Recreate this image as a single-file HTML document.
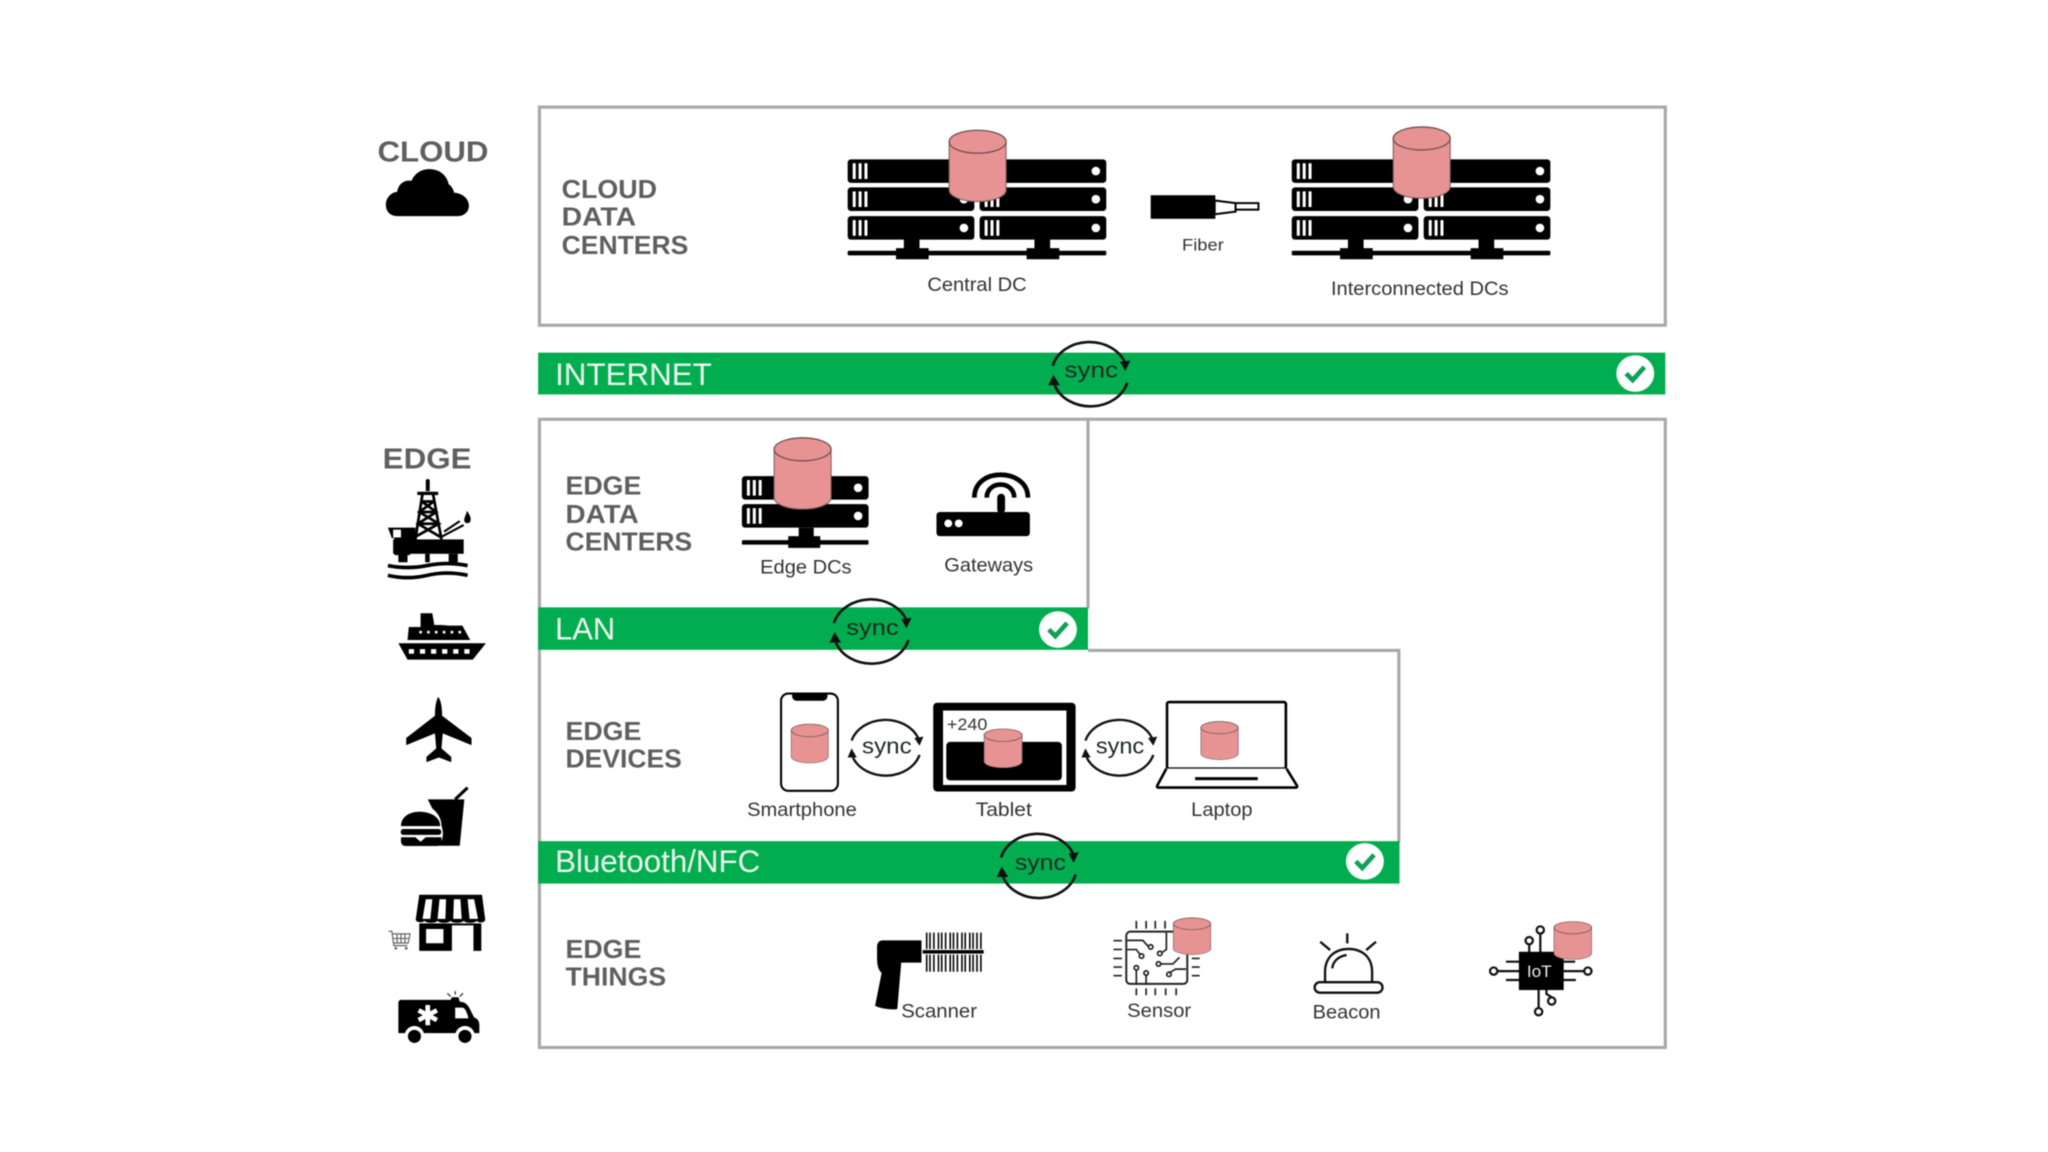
<!DOCTYPE html>
<html><head><meta charset="utf-8"><style>
html,body{margin:0;padding:0;background:#fff;width:2048px;height:1152px;overflow:hidden}
svg{display:block;filter:blur(.6px)}
text{font-family:"Liberation Sans",sans-serif}
.h{font-weight:bold;fill:#5f5f5f;font-size:20px;transform:translateY(.6px)}
.l{fill:#333;font-size:15px;transform:translateY(.7px)}
.b{fill:#eef7ee;font-size:24px;transform:translateY(.7px)}
.s{fill:#1c2a20;font-size:17px}
</style></head><body>
<svg xmlns="http://www.w3.org/2000/svg" width="2048" height="1152" viewBox="0 0 1568 882">
<defs>
<g id="u"><rect width="97" height="18" rx="2.5" fill="#000"/><path d="M5 3v12M9.500 3v12M14 3v12" stroke="#fff" stroke-width="2.300"/><circle cx="89" cy="9" r="3.300" fill="#fff"/></g>
<symbol id="c" viewBox="0 0 45 56" preserveAspectRatio="none"><path d="M.7 9.500V46.500C.7 51.500 10.500 55.300 22.500 55.300S44.300 51.500 44.300 46.500V9.500Z" fill="#e79393" stroke="#7d5d5d" stroke-width=".8"/><ellipse cx="22.500" cy="9.500" rx="21.800" ry="8.800" fill="#e79393" stroke="#6e5050" stroke-width="1"/></symbol>
<g id="sy" fill="none" stroke="#111" stroke-width="2"><path d="M-28.500-6A29 24 0 0 1 27-8"/><path d="M28.500 7A29 24 0 0 1-27 9"/><path d="M23-9L31-10 27-2Z" fill="#111" stroke="none"/><path d="M-23 9L-32 9-28 1Z" fill="#111" stroke="none"/></g>
<g id="sm" fill="none" stroke="#111" stroke-width="1.800"><path d="M-26-5A27 22 0 0 1 25-7"/><path d="M26 6A27 22 0 0 1-25 8"/><path d="M22-7L29-8 26-1Z" fill="#111" stroke="none"/><path d="M-22 8L-29 8-26 1Z" fill="#111" stroke="none"/></g>
<g id="ck"><ellipse rx="14.500" ry="14" fill="#fff"/><path d="M-7 0L-2 5 7-5" fill="none" stroke="#12a057" stroke-width="3.600"/></g>
</defs>
<rect width="1568" height="882" fill="#fff"/>

<!-- boxes -->
<g fill="none" stroke="#a8a8a8" stroke-width="2.400">
<rect x="413" y="82" width="862" height="167"/>
<rect x="413" y="321" width="862" height="481"/>
<path d="M833 321V466M833 498H1071V645"/>
</g>

<!-- bars -->
<rect x="412" y="270" width="863" height="32" fill="#02ad50"/>
<rect x="412" y="465" width="421" height="32.500" fill="#02ad50"/>
<rect x="412" y="644" width="659.500" height="32.500" fill="#02ad50"/>
<text class="b" x="425" y="294" textLength="120" lengthAdjust="spacingAndGlyphs">INTERNET</text>
<text class="b" x="425" y="489" textLength="46" lengthAdjust="spacingAndGlyphs">LAN</text>
<text class="b" x="425" y="667" textLength="157" lengthAdjust="spacingAndGlyphs">Bluetooth/NFC</text>
<use href="#ck" x="1252" y="286"/><use href="#ck" x="810" y="482"/><use href="#ck" x="1045" y="659.500"/>

<!-- section titles -->
<text class="h" x="289" y="123" style="font-size:22px" textLength="85" lengthAdjust="spacingAndGlyphs">CLOUD</text>
<text class="h" x="293" y="358" style="font-size:22px" textLength="68" lengthAdjust="spacingAndGlyphs">EDGE</text>
<text class="h" x="430" y="151" textLength="73" lengthAdjust="spacingAndGlyphs">CLOUD</text>
<text class="h" x="430" y="172" textLength="57" lengthAdjust="spacingAndGlyphs">DATA</text>
<text class="h" x="430" y="194" textLength="97" lengthAdjust="spacingAndGlyphs">CENTERS</text>
<text class="h" x="433" y="378" textLength="58" lengthAdjust="spacingAndGlyphs">EDGE</text>
<text class="h" x="433" y="400" textLength="56" lengthAdjust="spacingAndGlyphs">DATA</text>
<text class="h" x="433" y="421" textLength="97" lengthAdjust="spacingAndGlyphs">CENTERS</text>
<text class="h" x="433" y="566" textLength="58" lengthAdjust="spacingAndGlyphs">EDGE</text>
<text class="h" x="433" y="587" textLength="89" lengthAdjust="spacingAndGlyphs">DEVICES</text>
<text class="h" x="433" y="733" textLength="58" lengthAdjust="spacingAndGlyphs">EDGE</text>
<text class="h" x="433" y="754" textLength="77" lengthAdjust="spacingAndGlyphs">THINGS</text>

<!-- cloud icon -->
<path d="M305 165.500C297 165.500 295 160 295.500 155.500C296 151 300 147 304 147C305 140.500 310 137.500 315 138.500C318 132 323 129.500 329 129.500C337 129.500 342.500 135 343.500 141C346 143 347.500 145.500 347.500 147.500C354 148 359 152 359 157.500C359 162.500 355 165.500 350 165.500Z" fill="#000"/>

<!-- central DC -->
<g id="dc">
<use href="#u" x="649" y="122"/><use href="#u" x="750" y="122"/>
<use href="#u" x="649" y="143.500"/><use href="#u" x="750" y="143.500"/>
<use href="#u" x="649" y="165.500"/><use href="#u" x="750" y="165.500"/>
<rect x="692" y="183" width="12" height="10"/><rect x="792" y="183" width="12" height="10"/>
<rect x="649" y="192" width="198" height="3.500" rx="1"/>
<rect x="686" y="190" width="25" height="8.500"/><rect x="786" y="190" width="25" height="8.500"/>
</g>
<use href="#c" x="726" y="99" width="45" height="56"/>
<use href="#dc" x="340"/>
<use href="#c" x="1066" y="96.500" width="45" height="56"/>
<text class="l" x="710" y="222" textLength="76" lengthAdjust="spacingAndGlyphs">Central DC</text>
<text class="l" x="1019" y="225" textLength="136" lengthAdjust="spacingAndGlyphs">Interconnected DCs</text>
<text class="l" x="905" y="191" style="font-size:13px" textLength="32" lengthAdjust="spacingAndGlyphs">Fiber</text>

<!-- fiber -->
<rect x="881" y="149.500" width="49.500" height="18"/>
<path d="M930 153.500L946 155.500V162L930 164Z" fill="#fff" stroke="#000" stroke-width="1.500"/>
<rect x="946" y="155.500" width="17.500" height="5" fill="#fff" stroke="#000" stroke-width="1.500"/>

<!-- sync -->
<use href="#sy" x="834.500" y="286"/>
<text class="s" x="815" y="289" textLength="41" lengthAdjust="spacingAndGlyphs">sync</text>
<use href="#sy" x="667" y="483"/>
<text class="s" x="648" y="486" textLength="40" lengthAdjust="spacingAndGlyphs">sync</text>
<use href="#sy" x="795" y="662.500"/>
<text class="s" x="777" y="666" textLength="39" lengthAdjust="spacingAndGlyphs">sync</text>
<use href="#sm" x="678" y="572"/>
<text class="s" x="660" y="577" textLength="38" lengthAdjust="spacingAndGlyphs">sync</text>
<use href="#sm" x="857" y="572"/>
<text class="s" x="839" y="577" textLength="37" lengthAdjust="spacingAndGlyphs">sync</text>

<!-- edge DC -->
<use href="#u" x="568" y="364.500"/><use href="#u" x="568" y="386"/>
<rect x="611.500" y="404" width="11.500" height="8"/>
<rect x="568" y="413.500" width="97" height="3.500" rx="1"/>
<rect x="603.500" y="410.500" width="24.500" height="9"/>
<use href="#c" x="592" y="334.500" width="45" height="56"/>
<text class="l" x="582" y="438.500" textLength="70" lengthAdjust="spacingAndGlyphs">Edge DCs</text>

<!-- gateway -->
<rect x="717" y="392" width="71.500" height="18.500" rx="2.500"/>
<circle cx="726" cy="400.700" r="3" fill="#fff"/><circle cx="734" cy="400.700" r="3" fill="#fff"/>
<rect x="763.500" y="378" width="6" height="15" rx="3"/>
<path d="M746 381C746 369 756 363.500 766 363.500C776 363.500 787 369 787 381M755.500 381C755.500 375 760 371 766 371C772 371 776.500 375 776.500 381" fill="none" stroke="#000" stroke-width="3.600"/>
<text class="l" x="723" y="437" textLength="68" lengthAdjust="spacingAndGlyphs">Gateways</text>

<!-- rig -->
<g fill="#000">
<path d="M326 367.500Q327.500 366 329 367.500V376H326Z"/>
<g fill="none" stroke="#000" stroke-width="2.100"><path d="M323.500 378L318 413M331.500 378L338 413M323 384H332M321 392H334M320 401H336M323 384L334 392 320 401 337 411M332 384L321 392 336 401 318 411"/><path d="M338 411L355 402M340 407L352 399" stroke-width="1.600"/></g>
<rect x="319.500" y="376.500" width="16" height="2.500"/>
<rect x="301" y="413" width="54" height="11"/>
<path d="M297 404H318V414H314V425H302V412H300Z"/><rect x="301" y="405.500" width="6" height="6" fill="#fff"/>
<rect x="305" y="424" width="7" height="6.500"/><rect x="325.500" y="424" width="3.500" height="6.500"/><rect x="343.500" y="424" width="7" height="6.500"/>
<path d="M357.500 391C360 394.500 361 397 360 399.500C359 401 356 401 355.500 399C355 396.500 357 394 357.500 391Z"/>
<path d="M297 433Q312 436 327 433T358 433M297 440.500Q312 444 327 440.500T358 440.500" fill="none" stroke="#000" stroke-width="2.800"/>
</g>

<!-- ship -->
<path d="M322 469.500H331L332.500 478.500H338L344 479H354L360 490H312L313 480H322Z"/>
<path d="M305 492.500H372L362 505H312Z"/>
<g fill="#fff"><rect x="321" y="483" width="2" height="2"/><rect x="327" y="483" width="2" height="2"/><rect x="333" y="483" width="2" height="2"/><rect x="339" y="483" width="2" height="2"/><rect x="345" y="483" width="2" height="2"/><rect x="351" y="483" width="2" height="2"/>
<rect x="313" y="497" width="4" height="3.500"/><rect x="321.500" y="497" width="4" height="3.500"/><rect x="330" y="497" width="4" height="3.500"/><rect x="338.500" y="497" width="4" height="3.500"/><rect x="347" y="497" width="4" height="3.500"/><rect x="355.500" y="497" width="4" height="3.500"/></g>

<!-- plane -->
<path d="M335.500 533.500C337.500 536 338.500 541 338.500 548L361 565V570.500L339 561.500L338 573L345.500 579.500V583.500L336 580L326.500 583.500V579.500L334 573L333 561.500L311 570.500V565L333 548C333 541 334 536 335.500 533.500Z"/>

<!-- food -->
<path d="M327.500 612H355.500L352 647.500H336C340 642 339.500 637 338 632C338 627 335 622 331 619Z"/>
<path d="M348.500 612L358 603" fill="none" stroke="#000" stroke-width="2.400"/>
<path d="M307 632.500C307 625 314 621.500 321 621.500C329 621.500 337 625 337 632.500Z"/>
<rect x="306.800" y="634.700" width="31" height="4.500" rx="2"/>
<path d="M307 641H318L322 644.500L326 641H338V645C338 647 336 647.700 334 647.700H311C308 647.700 307 646 307 644Z"/>

<!-- store -->
<path d="M321 685H369L371.500 704C371.500 706.500 367 707 365 705C363 707 357 707 355 705C353 707 347 707 345 705C343 707 337 707 335 705C333 707 327 707 325 705C323 707 318.300 706 318.300 704Z"/>
<g fill="#fff"><path d="M326 688.500H331L329.500 703.500H323.500Z"/><path d="M336.500 688.500H341.500L341 703.500H335Z"/><path d="M347.500 688.500H352.500L353.500 703.500H347Z"/><path d="M358 688.500H363L366 703.500H359.500Z"/></g>
<path d="M321 707H368.500V728H362.500V708.500H346V728H321ZM326.200 711.300V722.200H339.500V711.300Z" fill-rule="evenodd"/>
<g fill="none" stroke="#666" stroke-width=".9"><path d="M297.500 713H300L301.500 724H312M300.500 715H314L312.500 722H301.500M304 715V722M307 715V722M310 715V722M301 718.500H313.500"/></g>
<circle cx="303" cy="726" r="1" fill="#555"/><circle cx="311" cy="726" r="1" fill="#555"/>

<!-- ambulance -->
<path d="M307 765.500H345L346 763.500H351L352 767C356 767 358 769 360 773L363 779C366 780 367 782 367 785V791H305V768Q305 765.500 307 765.500Z"/>
<path d="M348.500 771.500H354C356 771.500 357.500 775 358.700 779.700H348.500Z" fill="#fff"/>
<g stroke="#fff" stroke-width="3.600"><path d="M327.500 769.500V785M320.500 773.500L334.500 781M334.500 773.500L320.500 781"/></g>
<circle cx="317.300" cy="793" r="7.500" fill="#fff"/><circle cx="356" cy="793" r="7.500" fill="#fff"/>
<circle cx="317.300" cy="793.500" r="5"/><circle cx="356" cy="793.500" r="5"/>
<path d="M342.500 760.500L345 763M348.500 758.800V761.500M354.500 760.500L352 763" stroke="#333" stroke-width="1"/>

<!-- smartphone -->
<rect x="598" y="531" width="43.500" height="74.500" rx="5.500" fill="#fff" stroke="#000" stroke-width="1.600"/>
<path d="M606.500 531H633.500V533C633.500 535 632 536.500 630 536.500H610C608 536.500 606.500 535 606.500 533Z"/>
<use href="#c" x="605.300" y="554" width="29.300" height="30.500"/>
<text class="l" x="572" y="624" textLength="84" lengthAdjust="spacingAndGlyphs">Smartphone</text>

<!-- tablet -->
<rect x="714.500" y="538" width="109" height="68" rx="3"/>
<rect x="722" y="544" width="94.500" height="57" fill="#fff"/>
<rect x="724.500" y="568" width="88.500" height="29.500" rx="3"/>
<text x="725" y="559" style="font-size:13px" fill="#333" textLength="31" lengthAdjust="spacingAndGlyphs">+240</text>
<use href="#c" x="753" y="557.700" width="30" height="30.500"/>
<text class="l" x="747" y="624" textLength="43" lengthAdjust="spacingAndGlyphs">Tablet</text>

<!-- laptop -->
<rect x="893.500" y="537.500" width="91" height="51" rx="1.500" fill="#fff" stroke="#000" stroke-width="2"/>
<path d="M893 588.500L886 601.500Q885.500 603 887 603H992Q993.500 603 993 601.500L985 588.500" fill="#fff" stroke="#000" stroke-width="2"/>
<rect x="915" y="595" width="48" height="2.300"/>
<use href="#c" x="919" y="552" width="29.500" height="30"/>
<text class="l" x="912" y="624" textLength="47" lengthAdjust="spacingAndGlyphs">Laptop</text>

<!-- scanner -->
<path d="M676 720H705.500V737H690L687 772.500C684 773.500 673 772 670 770L675 745C672 742 671.500 738 671.500 733V725C671.500 722 673 720 676 720Z"/>
<g stroke="#000" stroke-width="1.200"><path d="M709.500 714V744M712 714V744M715 714V744M718.500 714V744M721 714V744M724 714V744M727.500 714V744M730 714V744M733 714V744M736.500 714V744M739 714V744M742.500 714V744M745 714V744M748 714V744M751 714V744"/></g>
<rect x="706" y="727" width="47.500" height="3.500" fill="#000" stroke="#fff" stroke-width=".8"/>
<text class="l" x="690" y="778.500" textLength="58" lengthAdjust="spacingAndGlyphs">Scanner</text>

<!-- sensor -->
<rect x="862.300" y="713.300" width="46.700" height="40" rx="3" fill="#fff" stroke="#222" stroke-width="1.500"/>
<g stroke="#222" stroke-width="1.300" fill="none">
<path d="M852.500 720.200H859M852.500 726.900H859M852.500 733.800H859M852.500 740.400H859M852.500 747H859M870 705V711M877.500 705V711M884.500 705V711M892 705V711M870 756.700V762M877.500 756.700V762M884.500 756.700V762M892.500 756.700V762M900.500 756.700V762M912.500 733.800H918.500M912.500 740.400H918.500M912.500 747H918.500"/>
<path d="M863 720H875L879 724.500M863 727H870L873 731M890 729L893 727V714M888 738H898L903 733M895 745L900 742H908M870 742V754M877.500 746V754"/>
<circle cx="881" cy="725" r="1.700"/><circle cx="874" cy="732" r="1.700"/><circle cx="888" cy="730" r="1.700"/><circle cx="887" cy="738" r="1.700"/><circle cx="895" cy="746" r="1.700"/><circle cx="870" cy="741" r="1.700"/><circle cx="877.500" cy="745" r="1.700"/>
</g>
<use href="#c" x="897.900" y="702.400" width="29.500" height="28.800"/>
<text class="l" x="863" y="778" textLength="49" lengthAdjust="spacingAndGlyphs">Sensor</text>

<!-- beacon -->
<g fill="none" stroke="#111" stroke-width="1.800">
<path d="M1014.500 751.500V744C1014.500 733 1022 726.500 1032.500 726.500C1043 726.500 1050.500 733 1050.500 744V751.500"/>
<rect x="1006.500" y="752" width="52" height="8" rx="4"/>
<path d="M1031.500 714.600V722.300M1010.800 721L1018.400 727.400M1053.500 721L1046 727.400M1020 741.400C1020.500 736 1025 732 1031 731.200"/>
</g>
<text class="l" x="1005" y="779" textLength="52" lengthAdjust="spacingAndGlyphs">Beacon</text>

<!-- IoT -->
<g fill="none" stroke="#111" stroke-width="1.700">
<path d="M1146 743.500H1163M1153 736.300H1163M1153 750.300H1163M1197 743.500H1213M1197 736.300H1206M1197 750.300H1206.500M1179.300 714.500V729M1170.800 723V729M1178 772V758M1188 763.500L1184 761V758"/>
<circle cx="1143.600" cy="743.500" r="2.800"/><circle cx="1215.700" cy="743.500" r="2.800"/><circle cx="1179.300" cy="712" r="2.800"/><circle cx="1170.800" cy="720.200" r="2.800"/><circle cx="1178" cy="774.600" r="2.800"/><circle cx="1188" cy="766.400" r="2.800"/>
</g>
<rect x="1162.900" y="728.700" width="34.300" height="29.300"/>
<text x="1169" y="748" fill="#eee" style="font-size:12.500px" textLength="19" lengthAdjust="spacingAndGlyphs">IoT</text>
<use href="#c" x="1189.300" y="705.200" width="29.700" height="29.800"/>
</svg>
</body></html>
